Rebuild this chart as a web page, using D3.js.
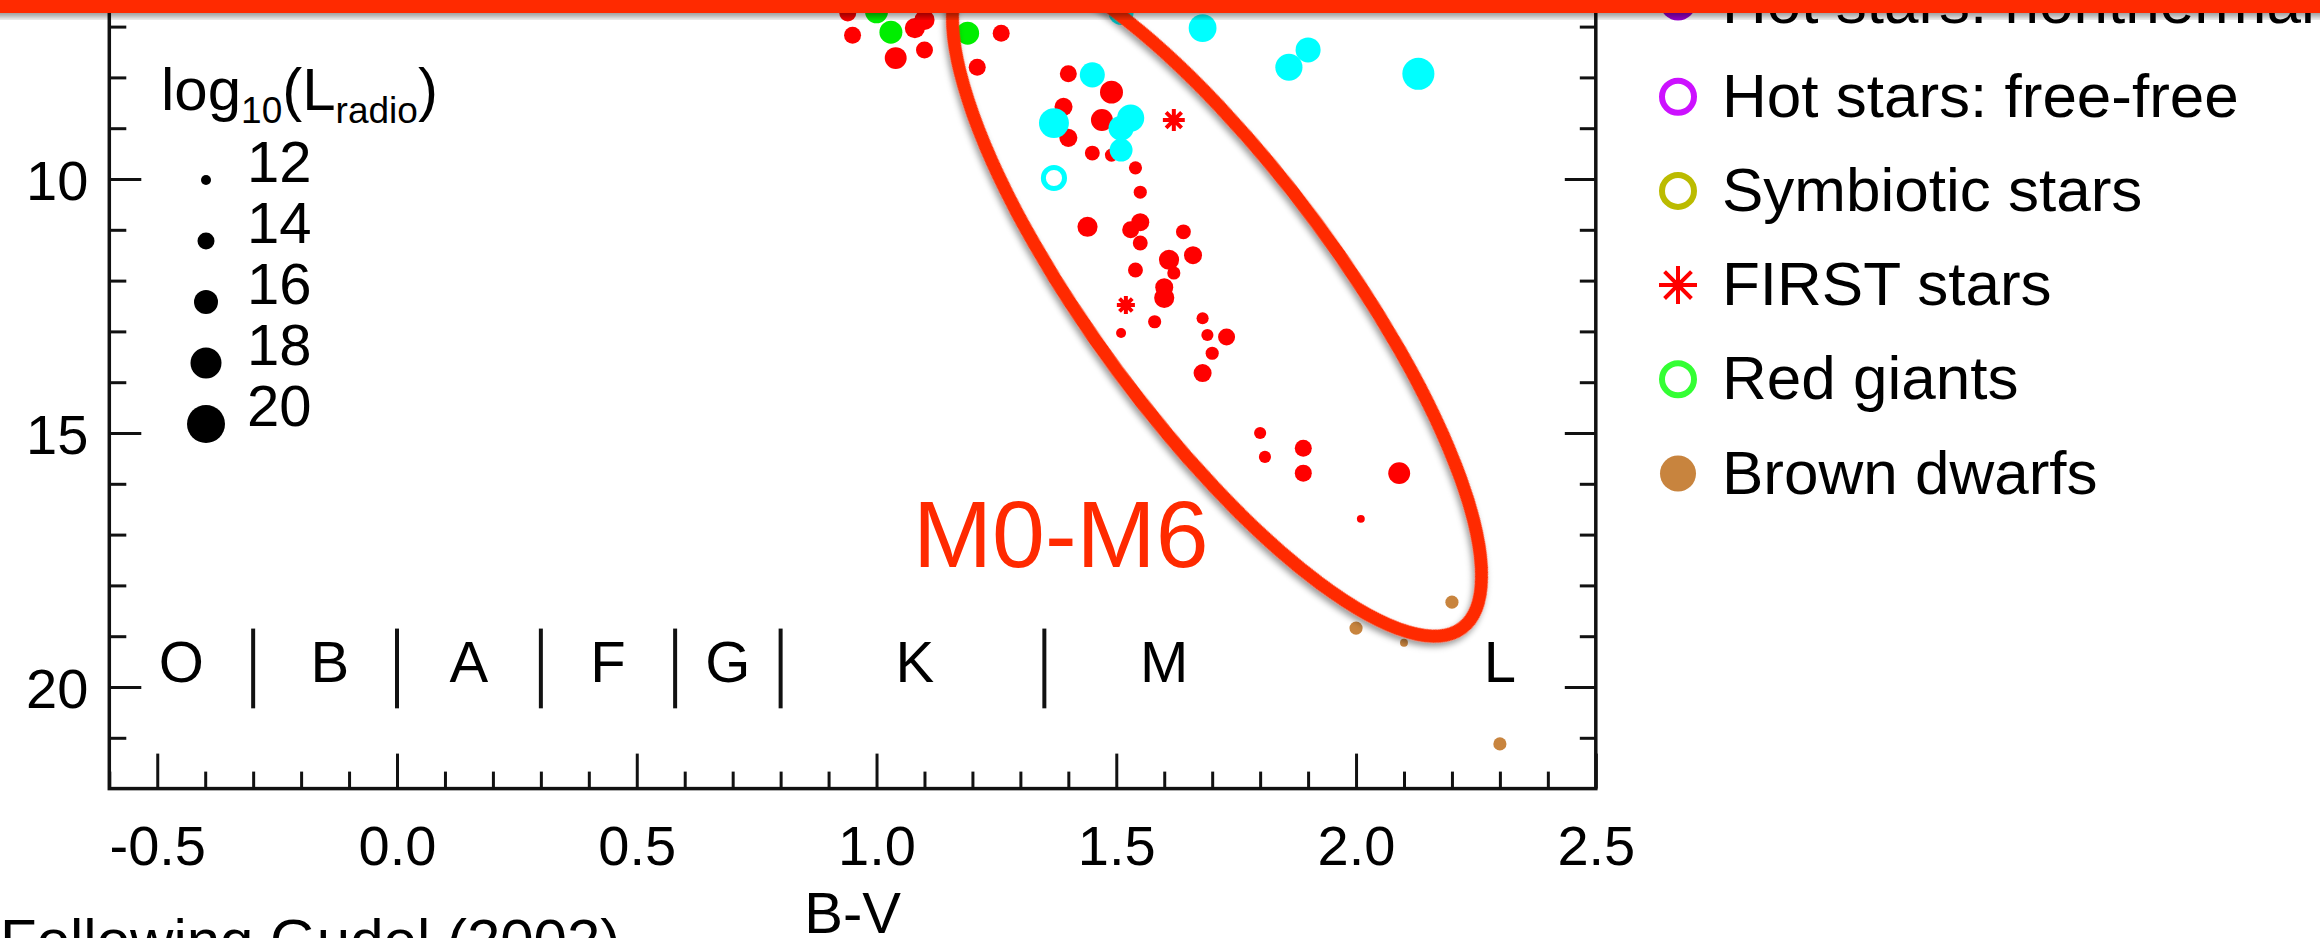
<!DOCTYPE html>
<html><head><meta charset="utf-8">
<script src="https://cdn.jsdelivr.net/npm/d3@7"></script>
<style>
html,body{margin:0;padding:0;background:#fff;overflow:hidden}
svg{display:block}
</style></head><body>
<svg id="chart" width="2320" height="938"></svg>
<script>
// ---------------- DATA ----------------
// each point: [B-V, M_V, log10(L_radio)]
const coolStars = [
  [0.94,6.73,14.0],[0.95,7.17,14.0],[1.08,7.03,14.9],[1.10,6.87,14.9],[1.04,7.62,15.4],
  [1.10,7.46,14.0],[1.26,7.13,14.0],[1.21,7.80,14.0],[1.40,7.93,14.0],[1.49,8.29,15.7],
  [1.39,8.58,14.3],[1.47,8.84,15.4],[1.40,9.19,14.3],[1.45,9.49,13.4],[1.49,9.53,12.9],
  [1.54,9.78,12.9],[1.55,10.26,12.9],[1.44,10.94,14.9],[1.55,10.85,14.3],[1.53,11.00,14.0],
  [1.55,11.26,13.4],[1.64,11.04,13.4],[1.61,11.59,14.9],[1.62,11.85,12.9],[1.66,11.50,14.3],
  [1.54,11.79,13.4],[1.60,12.13,14.3],[1.60,12.34,14.9],[1.58,12.81,12.9],[1.51,13.03,12.0],
  [1.68,12.74,12.6],[1.69,13.07,12.6],[1.73,13.11,14.0],[1.70,13.43,12.9],[1.68,13.82,14.3],
  [1.80,15.00,12.6],[1.81,15.47,12.6],[1.89,15.30,14.0],[1.89,15.79,14.0],[2.09,15.79,15.4],
  [2.01,16.69,11.4]
];
const greenStars = [[1.00,6.71,15.7],[1.03,7.11,15.7],[1.19,7.13,15.7]];
const binaries = [
  [1.51,6.72,16.3],[1.68,7.03,17.1],[1.90,7.46,16.3],[1.86,7.80,16.9],[2.13,7.93,18.3],
  [1.45,7.95,16.3],[1.37,8.90,17.7],[1.53,8.80,16.9],[1.51,9.00,16.3],[1.51,9.43,15.7]
];
const binariesOpen = [[1.37,9.98,16.9]];
const firstStars = [[1.62,8.84,15.4],[1.52,12.48,14.3]];
const brownDwarfs = [[2.20,18.33,12.9],[2.00,18.84,12.9],[2.10,19.13,11.4],[2.30,21.12,12.9]];

const xTickValues = [-0.5,0.0,0.5,1.0,1.5,2.0,2.5];
const xTickLabels = ["-0.5","0.0","0.5","1.0","1.5","2.0","2.5"];
const yTickValues = [10,15,20];
const yTickLabels = ["10","15","20"];

const spectralLetters = ["O","B","A","F","G","K","M","L"];
const spectralLetterBV = [-0.45,-0.14,0.15,0.44,0.69,1.08,1.60,2.30];
const spectralBounds = [-0.3,0.0,0.3,0.58,0.80,1.35];

const sizeLegendValues = [12,14,16,18,20];

const legendNames = ["Hot stars: nonthermal","Hot stars: free-free","Symbiotic stars","FIRST stars","Red giants","Brown dwarfs"];
const legendSymbols = ["filled","open","open","asterisk","open","filled"];
const legendColors = ["#9a00cc","#cc11ff","#bbbb00","#ff0000","#33ff33","#c8843e"];

// ---------------- SETUP ----------------
const FONT = '"Liberation Sans", Arial, Helvetica, sans-serif';
const INK = "#111";
const ANNOT = "#ff2a00";
const svg = d3.select("#chart");

const defs = svg.append("defs");
const f = defs.append("filter").attr("id","shadow").attr("x","-20%").attr("y","-20%").attr("width","140%").attr("height","140%");
f.append("feDropShadow").attr("dx",2).attr("dy",4).attr("stdDeviation",3)
  .attr("flood-color","#000").attr("flood-opacity",0.4);

const x = d3.scaleLinear().domain([-0.6, 2.5]).range([109.3, 1595.8]);
const y = d3.scaleLinear().domain([4, 22]).range([-125.8, 788.6]);
const r = d3.scaleLinear().domain([12, 20]).range([5, 19]);

// frame
svg.append("rect")
  .attr("x", x(-0.6)).attr("y", y(4))
  .attr("width", x(2.5)-x(-0.6)).attr("height", y(22)-y(4))
  .attr("fill","none").attr("stroke",INK).attr("stroke-width",3.5);

function styleAxis(g, fs){
  g.select(".domain").remove();
  g.selectAll(".tick line").attr("stroke",INK).attr("stroke-width",3);
  g.selectAll(".tick text").attr("font-family",FONT).attr("font-size",fs).attr("fill","#000");
}

const xMinor = d3.range(-6, 26).map(i => i/10).filter(v => Math.abs(v*2 - Math.round(v*2)) > 1e-6);
const yMinor = d3.range(5, 22).filter(v => v % 5 !== 0);

// bottom axis
svg.append("g").attr("transform",`translate(0,${y(22)})`)
  .call(d3.axisBottom(x).tickValues(xTickValues).tickFormat((d,i)=>xTickLabels[i])
        .tickSizeInner(-35).tickSizeOuter(0).tickPadding(37))
  .call(g => styleAxis(g, 56));
svg.append("g").attr("transform",`translate(0,${y(22)})`)
  .call(d3.axisBottom(x).tickValues(xMinor).tickFormat("").tickSizeInner(-17).tickSizeOuter(0))
  .call(g => styleAxis(g, 56));

// left axis
svg.append("g").attr("transform",`translate(${x(-0.6)},0)`)
  .call(d3.axisLeft(y).tickValues(yTickValues).tickFormat((d,i)=>yTickLabels[i])
        .tickSizeInner(-32).tickSizeOuter(0).tickPadding(21))
  .call(g => styleAxis(g, 56))
  .call(g => g.selectAll(".tick text").attr("dy","0.36em"));
svg.append("g").attr("transform",`translate(${x(-0.6)},0)`)
  .call(d3.axisLeft(y).tickValues(yMinor).tickFormat("").tickSizeInner(-17).tickSizeOuter(0))
  .call(g => styleAxis(g, 56));

// right axis (ticks only)
svg.append("g").attr("transform",`translate(${x(2.5)},0)`)
  .call(d3.axisRight(y).tickValues(yTickValues).tickFormat("").tickSizeInner(-31).tickSizeOuter(0))
  .call(g => styleAxis(g, 56));
svg.append("g").attr("transform",`translate(${x(2.5)},0)`)
  .call(d3.axisRight(y).tickValues(yMinor).tickFormat("").tickSizeInner(-16).tickSizeOuter(0))
  .call(g => styleAxis(g, 56));

// x title
svg.append("text").attr("x",(x(-0.6)+x(2.5))/2).attr("y",933)
  .attr("text-anchor","middle").attr("font-family",FONT).attr("font-size",58).text("B-V");

// spectral types
svg.append("g").selectAll("line").data(spectralBounds).join("line")
  .attr("x1",d=>x(d)).attr("x2",d=>x(d))
  .attr("y1",y(18.85)).attr("y2",y(20.42))
  .attr("stroke",INK).attr("stroke-width",4);
svg.append("g").selectAll("text").data(spectralLetters).join("text")
  .attr("x",(d,i)=>x(spectralLetterBV[i])).attr("y",y(19.9))
  .attr("text-anchor","middle").attr("font-family",FONT).attr("font-size",58)
  .text(d=>d);

// ---------------- POINTS ----------------
const pts = svg.append("g");
function dots(data, color){
  pts.append("g").selectAll("circle").data(data).join("circle")
    .attr("cx",d=>x(d[0])).attr("cy",d=>y(d[1])).attr("r",d=>r(d[2]))
    .attr("fill",color);
}
dots(coolStars, "#ff0000");
dots(greenStars, "#00ee00");
dots(binaries, "#00ffff");
dots(brownDwarfs, "#c8843e");
pts.append("g").selectAll("circle").data(binariesOpen).join("circle")
  .attr("cx",d=>x(d[0])).attr("cy",d=>y(d[1])).attr("r",d=>r(d[2])-3)
  .attr("fill","none").attr("stroke","#00ffff").attr("stroke-width",5);

function asteriskPath(cx, cy, h){
  let p = "";
  [0,45,90,135].forEach(a => {
    const t = a*Math.PI/180, dx = Math.cos(t)*h, dy = Math.sin(t)*h;
    p += `M${cx-dx},${cy-dy}L${cx+dx},${cy+dy}`;
  });
  return p;
}
pts.append("g").selectAll("path").data(firstStars).join("path")
  .attr("d",d=>asteriskPath(x(d[0]),y(d[1]),r(d[2])))
  .attr("stroke","#ff0000").attr("stroke-width",4).attr("fill","none");

// ---------------- SIZE LEGEND ----------------
const sl = svg.append("g");
const slTitle = sl.append("text").attr("x",161).attr("y",110)
  .attr("font-family",FONT).attr("font-size",60);
slTitle.append("tspan").text("log");
slTitle.append("tspan").attr("font-size",37).attr("dy",13).text("10");
slTitle.append("tspan").attr("dy",-13).text("(L");
slTitle.append("tspan").attr("font-size",37).attr("dy",13).text("radio");
slTitle.append("tspan").attr("dy",-13).text(")");
sl.selectAll("circle").data(sizeLegendValues).join("circle")
  .attr("cx",206).attr("cy",(d,i)=>180+61*i).attr("r",d=>r(d)).attr("fill","#000");
sl.selectAll("text.lab").data(sizeLegendValues).join("text").attr("class","lab")
  .attr("x",247).attr("y",(d,i)=>182+61*i)
  .attr("font-family",FONT).attr("font-size",58).text(d=>d);

// ---------------- SERIES LEGEND ----------------
const lg = svg.append("g");
legendNames.forEach((name,i) => {
  const by = 22.5 + 94.2*i, cy = by - 20, cx = 1678;
  const s = legendSymbols[i], c = legendColors[i];
  if (s === "filled") lg.append("circle").attr("cx",cx).attr("cy",cy).attr("r",18).attr("fill",c);
  else if (s === "open") lg.append("circle").attr("cx",cx).attr("cy",cy).attr("r",16)
      .attr("fill","none").attr("stroke",c).attr("stroke-width",6);
  else lg.append("path").attr("d",asteriskPath(cx,cy,19)).attr("stroke",c).attr("stroke-width",4);
  lg.append("text").attr("x",1722).attr("y",by).attr("font-family",FONT).attr("font-size",62)
    .attr("fill","#000").text(name);
});

// ---------------- ANNOTATIONS ----------------
svg.append("text").attr("x",0).attr("y",961).attr("font-family",FONT).attr("font-size",60)
  .text("Following Gudel (2002)");

const ecx = x(1.71), ecy = y(12.32);
svg.append("ellipse").attr("cx",0).attr("cy",0).attr("rx",412).attr("ry",124)
  .attr("transform",`translate(${ecx},${ecy}) rotate(53.5)`)
  .attr("fill","none").attr("stroke",ANNOT).attr("stroke-width",13)
  .attr("filter","url(#shadow)");

svg.append("text").attr("x",x(1.076)).attr("y",y(17.64))
  .attr("font-family",FONT).attr("font-size",95).attr("fill",ANNOT).text("M0-M6");

svg.append("rect").attr("x",-10).attr("y",-20).attr("width",2340).attr("height",33)
  .attr("fill",ANNOT).attr("filter","url(#shadow)");
</script>
</body></html>
